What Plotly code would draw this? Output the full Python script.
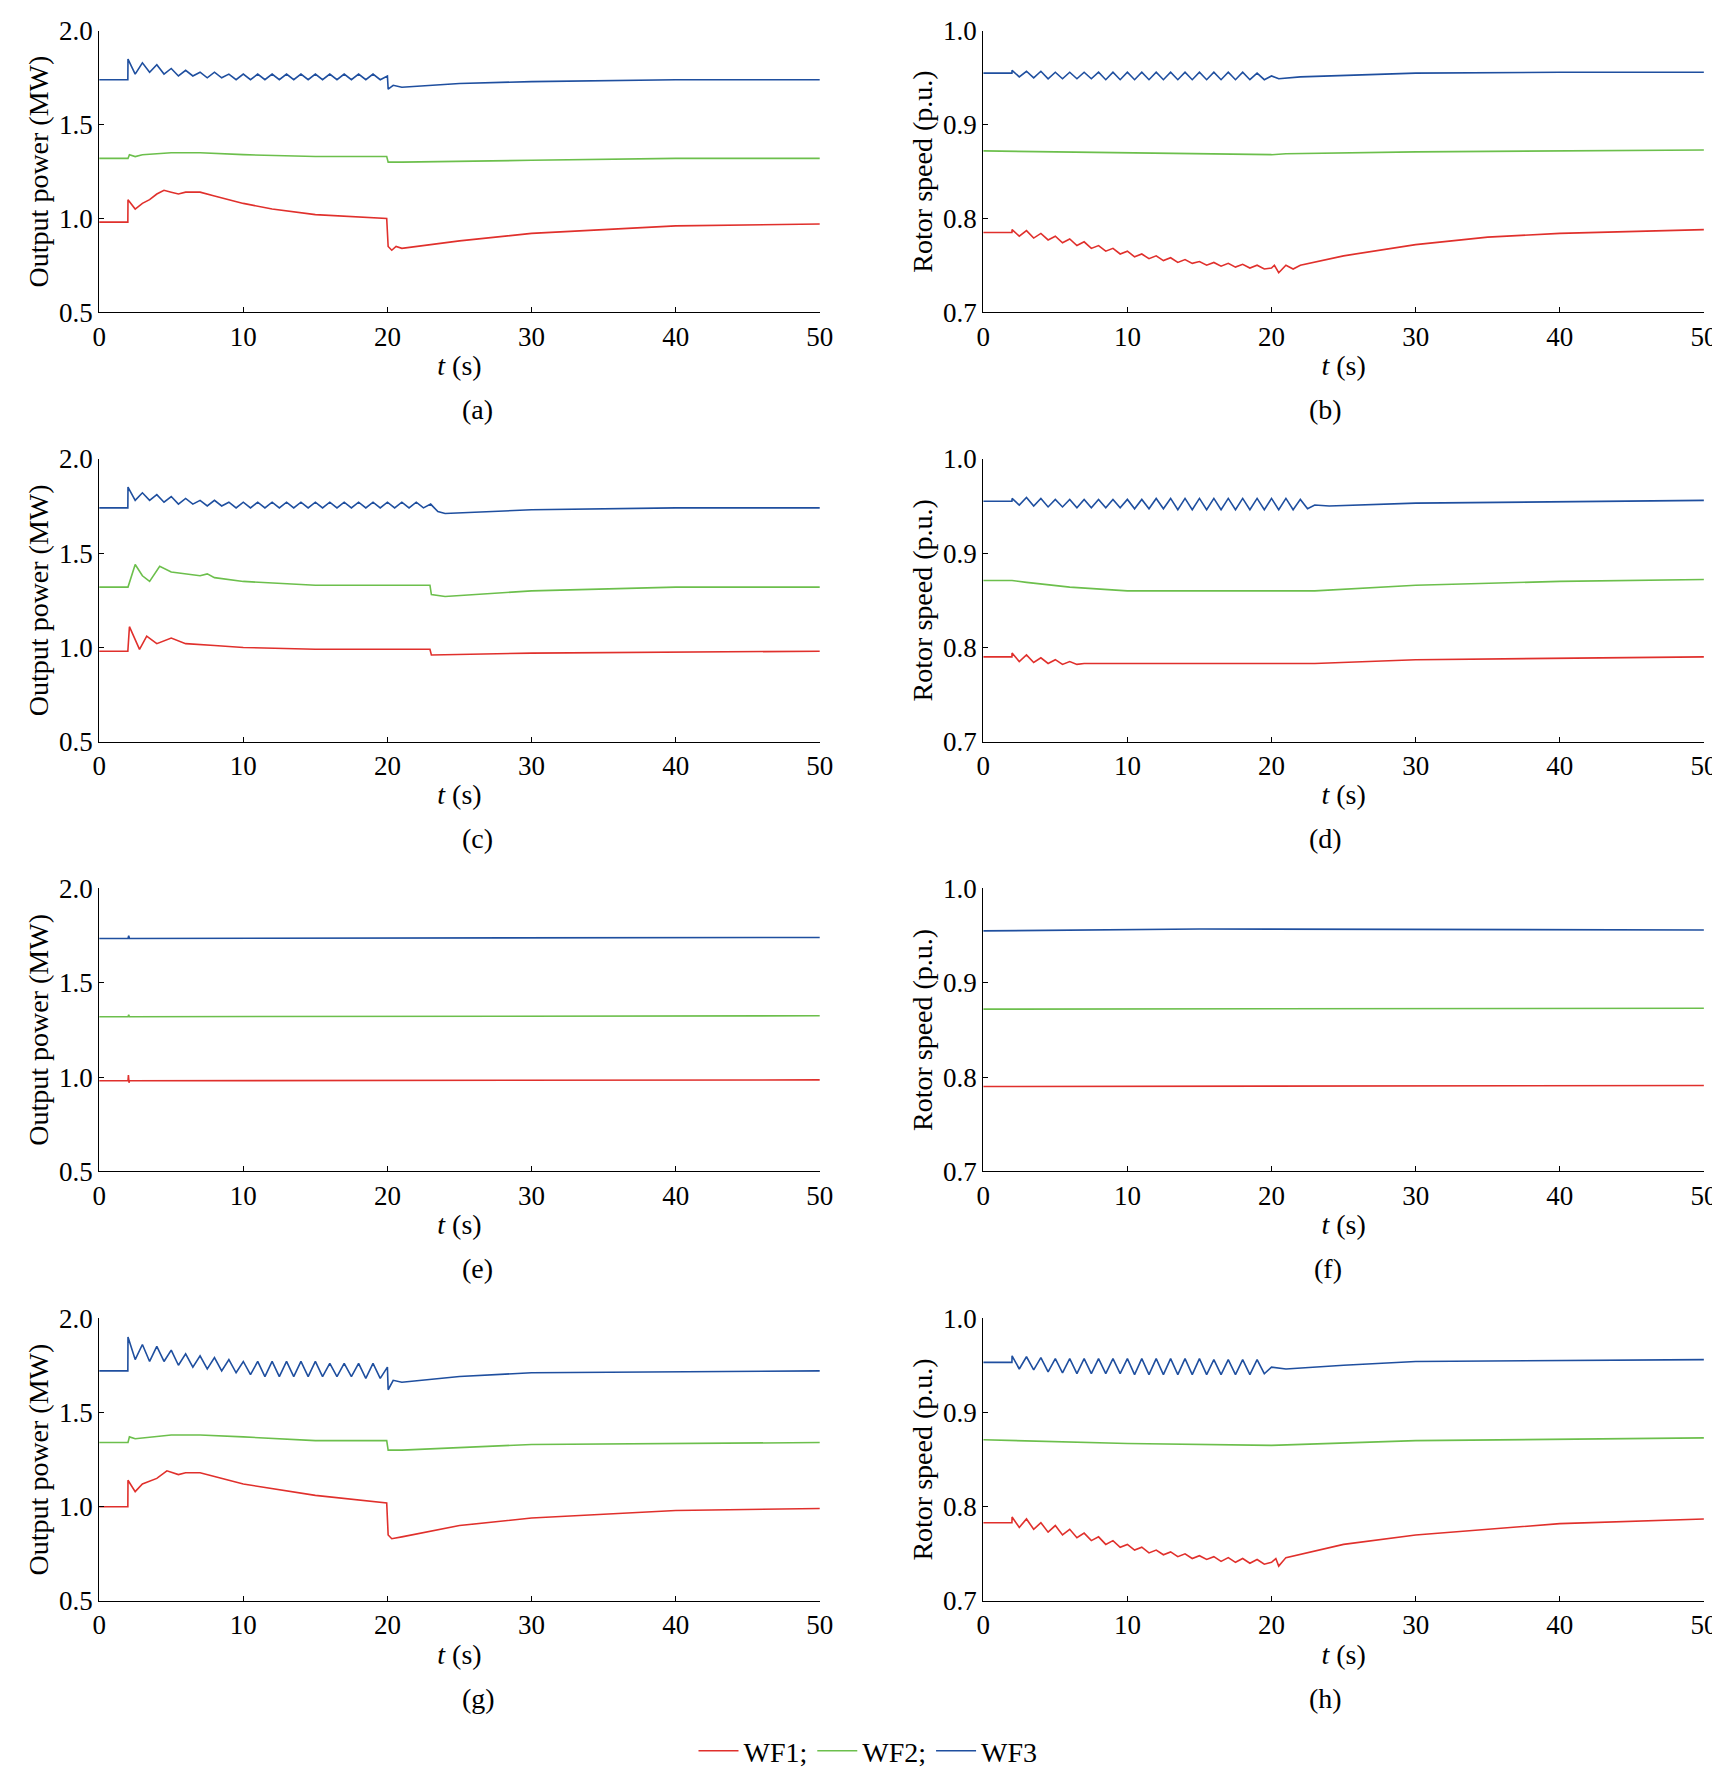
import plotly.graph_objects as go

RED, GREEN, BLUE = '#e0302c', '#6cbf4c', '#1f4f9f'
FONT = 'Liberation Serif'


def zig_times(vals, start=2.0, step=0.5):
    # sample times for an oscillating stretch, one per listed value
    return [start + step * k for k in range(len(vals))]


# ---- (a) output power ----
a_wf3_zig = [1.85, 1.77, 1.83, 1.78, 1.82, 1.77, 1.80, 1.76, 1.79, 1.76, 1.78, 1.75, 1.78, 1.75, 1.77, 1.74, 1.77,
             1.74, 1.77, 1.74, 1.77, 1.74, 1.77, 1.74, 1.77, 1.74, 1.77, 1.74, 1.77, 1.74, 1.77, 1.74, 1.77, 1.74,
             1.77, 1.74, 1.76]
a_wf3_t = [0, 1.99] + zig_times(a_wf3_zig) + [20.05, 20.4, 21, 25, 30, 40, 50]
a_wf3_y = [1.74, 1.74] + a_wf3_zig + [1.69, 1.71, 1.70, 1.72, 1.73, 1.74, 1.74]
a_wf2_t = [0, 2, 2.1, 2.5, 3, 5, 7, 10, 15, 19.95, 20.05, 21, 30, 40, 50]
a_wf2_y = [1.32, 1.32, 1.34, 1.33, 1.34, 1.35, 1.35, 1.34, 1.33, 1.33, 1.30, 1.30, 1.31, 1.32, 1.32]
a_wf1_t = [0, 1.99, 2, 2.5, 3, 3.5, 4, 4.5, 5, 5.5, 6, 7, 8, 10, 12, 15, 19.95, 20.05, 20.3, 20.6, 21, 23, 25, 30, 35, 40, 50]
a_wf1_y = [0.98, 0.98, 1.10, 1.05, 1.08, 1.10, 1.13, 1.15, 1.14, 1.13, 1.14, 1.14, 1.12, 1.08, 1.05, 1.02, 1.00,
           0.85, 0.83, 0.85, 0.84, 0.86, 0.88, 0.92, 0.94, 0.96, 0.97]

# ---- (b) rotor speed ----
b_wf3_zig = [0.958, 0.951, 0.957, 0.950, 0.957, 0.949, 0.956, 0.949, 0.956, 0.949, 0.956, 0.949, 0.956, 0.948,
             0.956, 0.948, 0.956, 0.948, 0.956, 0.948, 0.956, 0.948, 0.956, 0.948, 0.956, 0.948, 0.956, 0.948,
             0.956, 0.948, 0.956, 0.948, 0.956, 0.948, 0.955, 0.948, 0.952]
b_wf3_t = [0, 1.99] + zig_times(b_wf3_zig) + [20.5, 22, 30, 40, 50]
b_wf3_y = [0.955, 0.955] + b_wf3_zig + [0.949, 0.951, 0.955, 0.956, 0.956]
b_wf2_t = [0, 5, 10, 20, 21, 30, 50]
b_wf2_y = [0.872, 0.871, 0.870, 0.868, 0.869, 0.871, 0.873]
b_wf1_zig = [0.788, 0.781, 0.787, 0.779, 0.784, 0.777, 0.781, 0.774, 0.778, 0.771, 0.775, 0.768, 0.771, 0.765,
             0.768, 0.762, 0.765, 0.759, 0.762, 0.757, 0.760, 0.755, 0.758, 0.753, 0.756, 0.752, 0.754, 0.750,
             0.753, 0.749, 0.752, 0.748, 0.751, 0.747, 0.750, 0.746, 0.747]
b_wf1_t = [0, 1.99] + zig_times(b_wf1_zig) + [20.2, 20.5, 21, 21.5, 22, 25, 30, 35, 40, 50]
b_wf1_y = [0.785, 0.785] + b_wf1_zig + [0.750, 0.742, 0.750, 0.746, 0.750, 0.760, 0.772, 0.780, 0.784, 0.788]

# ---- (c) output power ----
c_wf3_zig = [1.85, 1.78, 1.82, 1.78, 1.81, 1.77, 1.80, 1.76, 1.79, 1.76, 1.78, 1.75, 1.78, 1.75, 1.77, 1.74,
             1.77, 1.74, 1.77, 1.74, 1.77, 1.74, 1.77, 1.74, 1.77, 1.74, 1.77, 1.74, 1.77, 1.74, 1.77, 1.74,
             1.77, 1.74, 1.77, 1.74, 1.77, 1.74, 1.77, 1.74, 1.77, 1.74, 1.76]
c_wf3_t = [0, 1.99] + zig_times(c_wf3_zig) + [23.5, 24, 30, 40, 50]
c_wf3_y = [1.74, 1.74] + c_wf3_zig + [1.72, 1.71, 1.73, 1.74, 1.74]
c_wf2_t = [0, 2, 2.5, 3, 3.5, 4.2, 5, 6, 7, 7.5, 8, 10, 15, 22.95, 23.05, 24, 30, 40, 50]
c_wf2_y = [1.32, 1.32, 1.44, 1.38, 1.35, 1.43, 1.40, 1.39, 1.38, 1.39, 1.37, 1.35, 1.33, 1.33, 1.28, 1.27,
           1.30, 1.32, 1.32]
c_wf1_t = [0, 1.99, 2.1, 2.8, 3.3, 4, 5, 6, 8, 10, 15, 22.95, 23.05, 30, 50]
c_wf1_y = [0.98, 0.98, 1.11, 0.99, 1.06, 1.02, 1.05, 1.02, 1.01, 1.00, 0.99, 0.99, 0.96, 0.97, 0.98]

# ---- (d) rotor speed ----
d_wf3_zig = [0.958, 0.951, 0.959, 0.950, 0.958, 0.949, 0.957, 0.949, 0.957, 0.948, 0.957, 0.948, 0.957, 0.948,
             0.957, 0.948, 0.957, 0.947, 0.957, 0.947, 0.958, 0.947, 0.958, 0.946, 0.958, 0.946, 0.958, 0.946,
             0.958, 0.946, 0.958, 0.946, 0.958, 0.946, 0.958, 0.946, 0.958, 0.946, 0.958, 0.946, 0.957, 0.947,
             0.951]
d_wf3_t = [0, 1.99] + zig_times(d_wf3_zig) + [24, 30, 50]
d_wf3_y = [0.955, 0.955] + d_wf3_zig + [0.950, 0.953, 0.956]
d_wf2_t = [0, 2, 3, 6, 10, 20, 23, 30, 40, 50]
d_wf2_y = [0.871, 0.871, 0.869, 0.864, 0.860, 0.860, 0.860, 0.866, 0.870, 0.872]
d_wf1_zig = [0.794, 0.785, 0.792, 0.784, 0.789, 0.783, 0.787, 0.782, 0.785, 0.782, 0.783]
d_wf1_t = [0, 1.99] + zig_times(d_wf1_zig) + [23, 30, 50]
d_wf1_y = [0.790, 0.790] + d_wf1_zig + [0.783, 0.787, 0.790]

# ---- (e) output power ----
e_wf3_t = [0, 2, 2.05, 2.1, 50]
e_wf3_y = [1.735, 1.735, 1.75, 1.735, 1.74]
e_wf2_t = [0, 2, 2.05, 2.1, 50]
e_wf2_y = [1.32, 1.32, 1.33, 1.32, 1.325]
e_wf1_t = [0, 2, 2.03, 2.07, 2.1, 50]
e_wf1_y = [0.98, 0.98, 1.01, 0.97, 0.98, 0.985]

# ---- (f) rotor speed ----
f_wf3_t = [0, 15, 50]
f_wf3_y = [0.955, 0.957, 0.956]
f_wf2_t = [0, 50]
f_wf2_y = [0.872, 0.873]
f_wf1_t = [0, 50]
f_wf1_y = [0.790, 0.791]

# ---- (g) output power ----
g_wf3_zig = [1.90, 1.78, 1.86, 1.77, 1.85, 1.77, 1.83, 1.75, 1.81, 1.74, 1.80, 1.73, 1.79, 1.72, 1.78, 1.71,
             1.77, 1.70, 1.77, 1.69, 1.77, 1.69, 1.77, 1.69, 1.77, 1.69, 1.77, 1.69, 1.76, 1.69, 1.76, 1.69,
             1.76, 1.68, 1.76, 1.68, 1.74]
g_wf3_t = [0, 1.99] + zig_times(g_wf3_zig) + [20.05, 20.4, 21, 25, 30, 50]
g_wf3_y = [1.72, 1.72] + g_wf3_zig + [1.62, 1.67, 1.66, 1.69, 1.71, 1.72]
g_wf2_t = [0, 2, 2.1, 2.5, 5, 7, 10, 15, 19.95, 20.05, 21, 30, 50]
g_wf2_y = [1.34, 1.34, 1.37, 1.36, 1.38, 1.38, 1.37, 1.35, 1.35, 1.30, 1.30, 1.33, 1.34]
g_wf1_t = [0, 1.99, 2, 2.5, 3, 4, 4.7, 5.5, 6, 7, 8, 10, 15, 19.95, 20.05, 20.3, 21, 25, 30, 40, 50]
g_wf1_y = [1.00, 1.00, 1.14, 1.08, 1.12, 1.15, 1.19, 1.17, 1.18, 1.18, 1.16, 1.12, 1.06, 1.02, 0.85, 0.83,
           0.84, 0.90, 0.94, 0.98, 0.99]

# ---- (h) rotor speed ----
h_wf3_zig = [0.960, 0.946, 0.959, 0.945, 0.958, 0.943, 0.957, 0.942, 0.957, 0.941, 0.957, 0.941, 0.957, 0.941,
             0.957, 0.941, 0.957, 0.940, 0.957, 0.940, 0.957, 0.940, 0.957, 0.940, 0.957, 0.940, 0.957, 0.940,
             0.956, 0.940, 0.956, 0.940, 0.956, 0.940, 0.956, 0.941, 0.948]
h_wf3_t = [0, 1.99] + zig_times(h_wf3_zig) + [21, 25, 30, 50]
h_wf3_y = [0.953, 0.953] + h_wf3_zig + [0.946, 0.950, 0.954, 0.956]
h_wf2_t = [0, 10, 20, 30, 50]
h_wf2_y = [0.871, 0.867, 0.865, 0.870, 0.873]
h_wf1_zig = [0.789, 0.778, 0.787, 0.776, 0.783, 0.773, 0.780, 0.770, 0.776, 0.767, 0.772, 0.764, 0.768, 0.760,
             0.764, 0.757, 0.760, 0.754, 0.757, 0.751, 0.754, 0.749, 0.752, 0.747, 0.750, 0.745, 0.748, 0.744,
             0.747, 0.742, 0.746, 0.741, 0.745, 0.740, 0.744, 0.739, 0.741]
h_wf1_t = [0, 1.99] + zig_times(h_wf1_zig) + [20.3, 20.5, 21, 25, 30, 40, 50]
h_wf1_y = [0.783, 0.783] + h_wf1_zig + [0.745, 0.737, 0.746, 0.760, 0.770, 0.782, 0.787]

panels = [
    ('(a)', [(a_wf1_t, a_wf1_y), (a_wf2_t, a_wf2_y), (a_wf3_t, a_wf3_y)]),
    ('(b)', [(b_wf1_t, b_wf1_y), (b_wf2_t, b_wf2_y), (b_wf3_t, b_wf3_y)]),
    ('(c)', [(c_wf1_t, c_wf1_y), (c_wf2_t, c_wf2_y), (c_wf3_t, c_wf3_y)]),
    ('(d)', [(d_wf1_t, d_wf1_y), (d_wf2_t, d_wf2_y), (d_wf3_t, d_wf3_y)]),
    ('(e)', [(e_wf1_t, e_wf1_y), (e_wf2_t, e_wf2_y), (e_wf3_t, e_wf3_y)]),
    ('(f)', [(f_wf1_t, f_wf1_y), (f_wf2_t, f_wf2_y), (f_wf3_t, f_wf3_y)]),
    ('(g)', [(g_wf1_t, g_wf1_y), (g_wf2_t, g_wf2_y), (g_wf3_t, g_wf3_y)]),
    ('(h)', [(h_wf1_t, h_wf1_y), (h_wf2_t, h_wf2_y), (h_wf3_t, h_wf3_y)]),
]
names = ['WF1;', 'WF2;', 'WF3']
colors = [RED, GREEN, BLUE]

x_domains = [[0.053, 0.472], [0.567, 0.986]]
y_domains = [[0.828, 0.987], [0.585, 0.745], [0.342, 0.502], [0.099, 0.259]]

fig = go.Figure()
layout = {}
for i, (label, series) in enumerate(panels):
    row, col = divmod(i, 2)
    n = i + 1
    sfx = '' if n == 1 else str(n)
    for j, (t, y) in enumerate(series):
        assert len(t) == len(y), (label, j, len(t), len(y))
        fig.add_trace(go.Scatter(x=t, y=y, mode='lines', xaxis='x' + sfx, yaxis='y' + sfx,
                                 line=dict(color=colors[j], width=1.6),
                                 name=names[j], showlegend=(i == 0)))
    axis_common = dict(showline=True, linecolor='black', linewidth=1.2, ticks='inside', ticklen=5,
                       tickcolor='black', showgrid=False, zeroline=False, automargin=False,
                       tickfont=dict(family=FONT, size=27, color='black'))
    layout['xaxis' + sfx] = dict(axis_common, domain=x_domains[col], anchor='y' + sfx,
                                 range=[0, 50], tickvals=[0, 10, 20, 30, 40, 50],
                                 title=dict(text='<i>t</i> (s)', standoff=4,
                                            font=dict(family=FONT, size=28, color='black')))
    if col == 0:
        yr, yt, ytitle = [0.5, 2.0], [0.5, 1.0, 1.5, 2.0], 'Output power (MW)'
    else:
        yr, yt, ytitle = [0.7, 1.0], [0.7, 0.8, 0.9, 1.0], 'Rotor speed (p.u.)'
    layout['yaxis' + sfx] = dict(axis_common, domain=y_domains[row], anchor='x' + sfx,
                                 range=yr, tickvals=yt, tickformat='.1f',
                                 title=dict(text=ytitle, standoff=2,
                                            font=dict(family=FONT, size=28, color='black')))
    fig.add_annotation(text=label, xref='paper', yref='paper',
                       x=sum(x_domains[col]) / 2, y=y_domains[row][0] - 0.045,
                       showarrow=False, yanchor='top',
                       font=dict(family=FONT, size=28, color='black'))

fig.update_layout(
    **layout,
    width=1720, height=1768,
    margin=dict(l=0, r=0, t=0, b=0, autoexpand=False),
    plot_bgcolor='white', paper_bgcolor='white',
    font=dict(family=FONT, size=27, color='black'),
    legend=dict(orientation='h', x=0.5, xanchor='center', y=0.0, yanchor='bottom',
                font=dict(family=FONT, size=28), itemwidth=40, tracegroupgap=0),
)

fig.write_html("out.html")
